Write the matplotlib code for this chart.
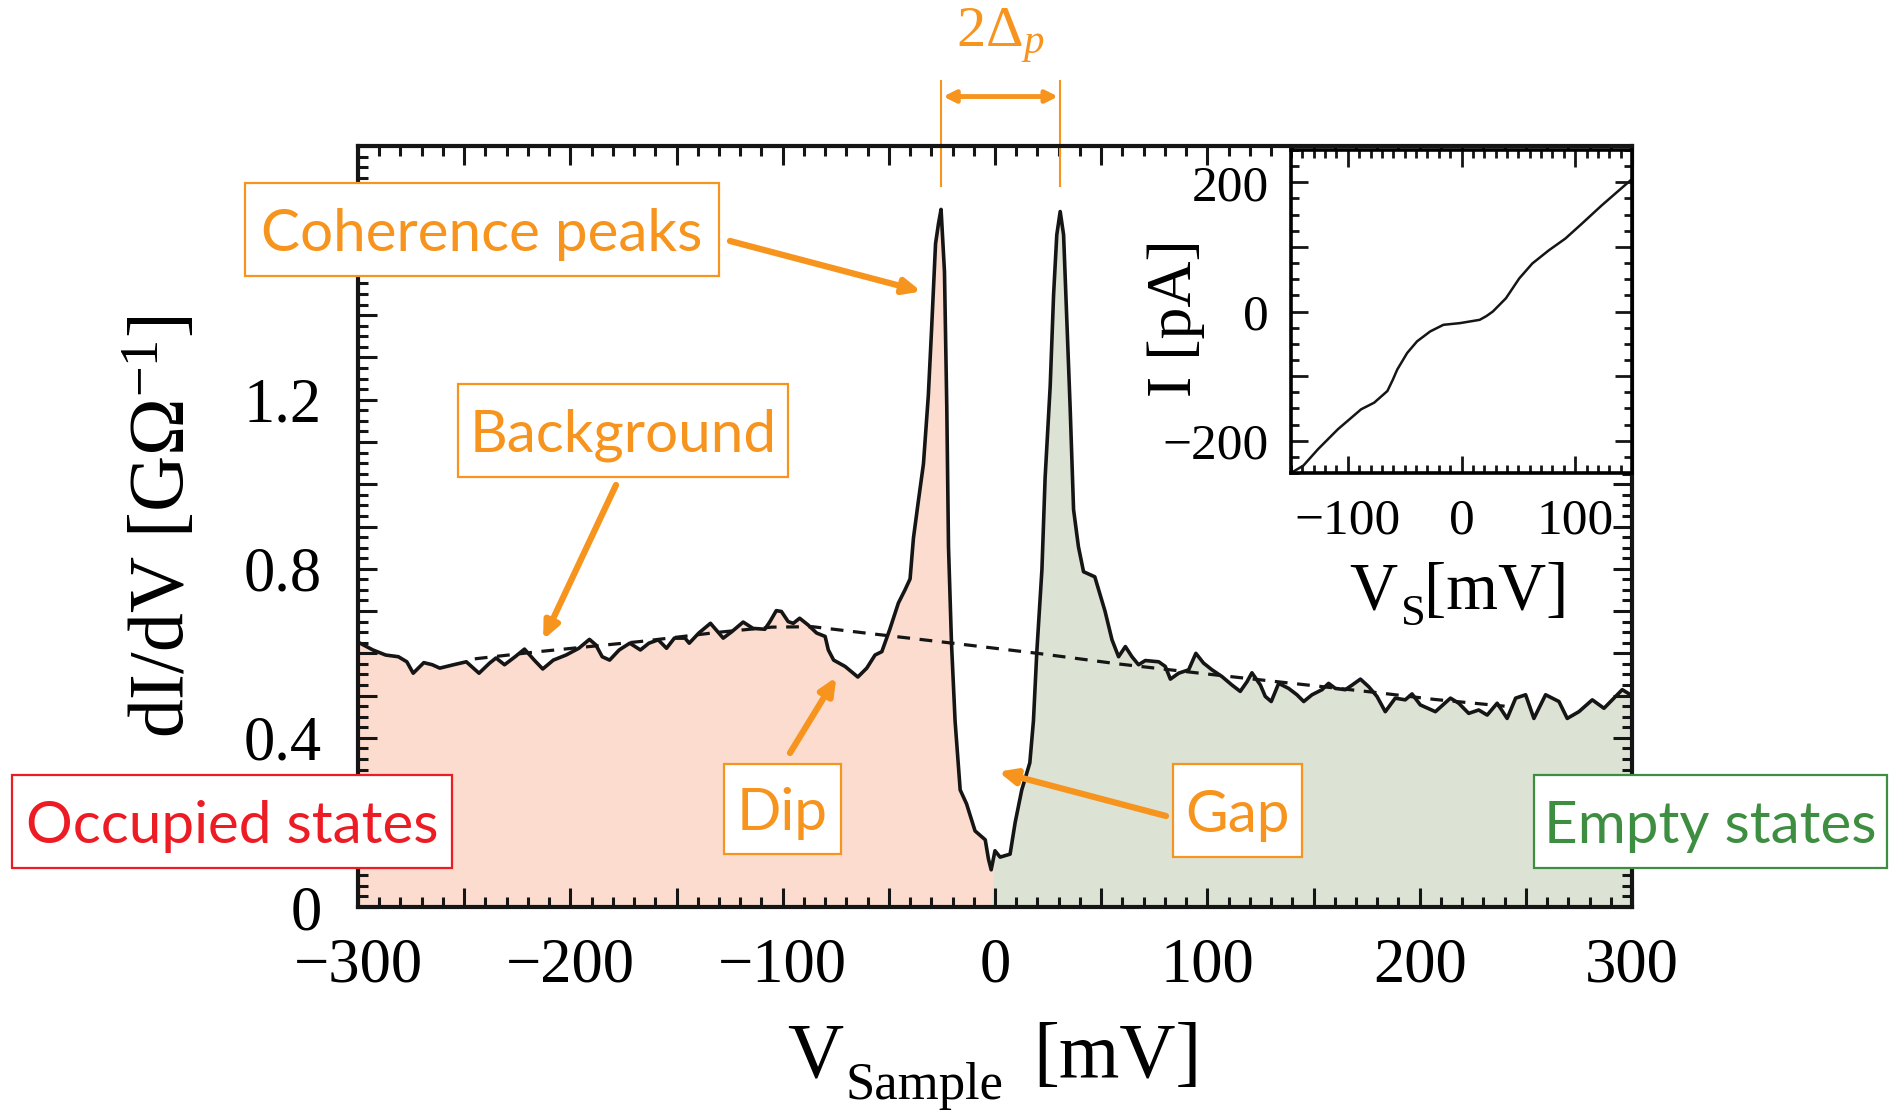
import numpy as np
import matplotlib
matplotlib.use("Agg")
import matplotlib.pyplot as plt
from matplotlib.ticker import MultipleLocator, FuncFormatter
from matplotlib.patches import Rectangle

plt.rcParams['font.family'] = ['Liberation Serif', 'DejaVu Serif']
plt.rcParams['mathtext.fontset'] = 'custom'
plt.rcParams['mathtext.rm'] = 'Liberation Serif'
plt.rcParams['mathtext.it'] = 'Liberation Serif:italic'
plt.rcParams['mathtext.bf'] = 'Liberation Serif:bold'

# dI/dV spectrum (mV, 1/GOhm)
bias = [-300, -299, -293, -287, -281, -277, -274, -269, -265, -261.5, -255, -249, -243, -238,
        -235, -231, -226, -221.6, -217, -213, -208, -202, -196, -191, -188, -185, -181.5, -177,
        -172, -167, -163, -158.6, -154.7, -151, -146, -144, -139.5, -134, -128, -124, -118.6,
        -114, -108.4, -106, -103, -100.6, -97.4, -95, -92, -88, -84, -80, -78.5, -76, -70.6,
        -64.6, -60.4, -56.5, -53.3, -49.6, -45.5, -42.4, -40, -38.4, -36.1, -33.7, -31.4, -29.9,
        -28.0, -26.6, -25.4, -23.8, -22.7, -21.9, -20.5, -18.8, -16.4, -13.4, -9.4, -4.6, -3.1,
        -1.8, 0.0, 2.4, 7.1, 9.5, 12.6, 16.4, 18.1, 19.7, 22.1, 23.6, 26.0, 27.6, 29.1, 30.7,
        32.3, 33.8, 35.4, 37.0, 39.3, 41.7, 47.0, 51.8, 55.1, 58.2, 61.4, 64.5, 67.6, 70.8,
        77.1, 80.2, 82.6, 86.5, 91.2, 94.6, 98.2, 102.2, 106.9, 111.6, 115.5, 118.7, 121.0,
        125.0, 127.3, 130.1, 133.6, 138.3, 142.2, 145.4, 149.3, 154.0, 157.1, 160.3, 165.0,
        168.2, 172.1, 176.0, 179.9, 183.8, 188.5, 193.2, 196.4, 200.3, 207.4, 214.5, 218.4,
        223.1, 227.8, 231.8, 236.5, 241.2, 245.2, 249.9, 253.8, 259.3, 265.6, 269.5, 275.0,
        281.3, 286.8, 290.7, 295.4, 300]
didv = [0.625, 0.624, 0.608, 0.596, 0.592, 0.580, 0.553, 0.578, 0.573, 0.565, 0.573, 0.580, 0.553,
        0.577, 0.589, 0.573, 0.592, 0.610, 0.584, 0.563, 0.584, 0.596, 0.612, 0.633, 0.620, 0.592,
        0.584, 0.608, 0.624, 0.608, 0.624, 0.632, 0.612, 0.636, 0.636, 0.624, 0.648, 0.671, 0.636,
        0.651, 0.674, 0.659, 0.657, 0.675, 0.701, 0.699, 0.675, 0.671, 0.683, 0.667, 0.648, 0.640,
        0.608, 0.584, 0.569, 0.544, 0.565, 0.596, 0.604, 0.656, 0.719, 0.750, 0.776, 0.873, 0.960,
        1.048, 1.210, 1.363, 1.569, 1.617, 1.650, 1.503, 1.180, 0.852, 0.625, 0.440, 0.277, 0.244,
        0.180, 0.159, 0.114, 0.088, 0.133, 0.118, 0.125, 0.200, 0.277, 0.341, 0.440, 0.604, 0.798,
        1.015, 1.233, 1.449, 1.590, 1.645, 1.590, 1.394, 1.180, 0.940, 0.852, 0.793, 0.781, 0.700,
        0.632, 0.592, 0.616, 0.592, 0.573, 0.583, 0.580, 0.569, 0.539, 0.553, 0.561, 0.600, 0.577,
        0.561, 0.545, 0.525, 0.510, 0.533, 0.554, 0.525, 0.498, 0.486, 0.529, 0.517, 0.502, 0.486,
        0.502, 0.514, 0.529, 0.517, 0.514, 0.525, 0.539, 0.521, 0.498, 0.462, 0.494, 0.490, 0.504,
        0.478, 0.462, 0.494, 0.482, 0.458, 0.466, 0.454, 0.482, 0.446, 0.494, 0.502, 0.446, 0.502,
        0.486, 0.446, 0.462, 0.490, 0.470, 0.490, 0.514, 0.500]

# background (dashed)
bg_bias = [-245, -215, -167, -130, -105, -86, -61, -20, 20, 58, 100, 140, 180, 207, 240]
bg_didv = [0.587, 0.604, 0.628, 0.650, 0.662, 0.663, 0.648, 0.624, 0.600, 0.575, 0.551, 0.529,
           0.507, 0.491, 0.475]

# inset I(V)
iv_bias = [-150, -139.1, -126.1, -108.7, -88.3, -76.8, -65.2, -60.5, -56.5, -47.8, -39.1, -27.5,
           -15.9, -1.4, 16.0, 22.0, 27.6, 39.1, 50.8, 62.3, 76.9, 91.3, 105.8, 123.2, 145, 150]
iv_curr = [-250, -238.5, -212.9, -182.2, -151.4, -141.1, -123.1, -106.0, -89.8, -64.2, -46.2,
           -30.8, -20.6, -18.0, -12.9, -7.0, 0, 20.5, 51.2, 74.3, 94.8, 112.8, 135.8, 164.0,
           197.4, 205]

orange = '#F7941D'
red = '#ED1C24'
green = '#3E8E41'
pink = '#FCDCCF'
sage = '#DCE3D4'
ink = '#151515'

W, H = 1892, 1114
fig = plt.figure(figsize=(W / 100, H / 100), dpi=100)

def px(x0, y0, x1, y1):
    # pixel box (top-left origin) -> figure fraction rect
    return [x0 / W, 1 - y1 / H, (x1 - x0) / W, (y1 - y0) / H]

def ftext(xp, yp, s, **kw):
    return fig.text(xp / W, 1 - yp / H, s, **kw)

ax = fig.add_axes(px(358, 146, 1632, 907))
x = np.array(bias)
y = np.array(didv)
ax.fill_between(x, 0, y, where=x <= 0, color=pink, lw=0, interpolate=True)
ax.fill_between(x, 0, y, where=x >= 0, color=sage, lw=0, interpolate=True)
ax.plot(bg_bias, bg_didv, ls=(0, (4, 3)), color=ink, lw=2.3)
ax.plot(x, y, color=ink, lw=2.6)
ax.set_xlim(-300, 300)
ax.set_ylim(0, 1.8)

ax.xaxis.set_major_locator(MultipleLocator(50))
ax.xaxis.set_minor_locator(MultipleLocator(10))
ax.xaxis.set_major_formatter(FuncFormatter(
    lambda v, p: f"{v:.0f}".replace('-', '\u2212') if abs(v % 100) < 1e-6 else ''))
ax.yaxis.set_major_locator(MultipleLocator(0.1))
ax.yaxis.set_minor_locator(MultipleLocator(0.025))
def yfmt(v, p):
    # labels every 0.4; the 1.6 one sits under the "Coherence peaks" box
    k = v / 0.4
    if abs(k - round(k)) > 1e-6 or v > 1.3:
        return ''
    return '0' if abs(v) < 1e-6 else f"{v:.1f}"
ax.yaxis.set_major_formatter(FuncFormatter(yfmt))
ax.tick_params(which='both', direction='in', top=True, right=True, width=2.2, color=ink)
ax.tick_params(which='major', length=14)
ax.tick_params(which='minor', length=7)
ax.tick_params(axis='x', which='major', labelsize=45, pad=22)
ax.tick_params(axis='y', which='major', labelsize=45, pad=26)
for s in ax.spines.values():
    s.set_linewidth(3)
    s.set_color(ink)

ftext(163, 527, r"dI/dV [G$\Omega^{-1}$]", rotation=90, ha='center', va='center', fontsize=56)
# x label: V with a well-lowered "Sample" subscript
ftext(787, 1077, "V", ha='left', va='baseline', fontsize=56)
ftext(845, 1099, "Sample", ha='left', va='baseline', fontsize=38)
ftext(1033, 1077, "[mV]", ha='left', va='baseline', fontsize=56)

# 2 Delta_p markers at the coherence peak positions
left_pk = x[np.argmax(np.where(x < 0, y, 0))]
right_pk = x[np.argmax(np.where(x > 0, y, 0))]
for xp in (left_pk, right_pk):
    ax.plot([xp, xp], [1.705, 1.954], color=orange, lw=1.5, clip_on=False)
ax.annotate('', xy=(left_pk + 1, 1.917), xytext=(right_pk - 1, 1.917), xycoords='data',
            arrowprops=dict(arrowstyle='<|-|>,head_length=0.7,head_width=0.35', color=orange,
                            lw=3.5, shrinkA=0, shrinkB=0), annotation_clip=False)
ax.text((left_pk + right_pk) / 2, 2.06, r"$2\Delta_p$", color=orange, fontsize=42,
        ha='center', va='center', clip_on=False)

# inset
ins = fig.add_axes(px(1291, 150, 1632, 473))
ins.plot(iv_bias, iv_curr, color=ink, lw=1.8)
ins.set_xlim(-150, 150)
ins.set_ylim(-250, 250)
ins.xaxis.set_major_locator(MultipleLocator(100))
ins.xaxis.set_minor_locator(MultipleLocator(10))
ins.yaxis.set_major_locator(MultipleLocator(100))
ins.yaxis.set_minor_locator(MultipleLocator(25))
ins.xaxis.set_major_formatter(FuncFormatter(lambda v, p: f"{v:.0f}".replace('-', '\u2212')))
ins.yaxis.set_major_formatter(FuncFormatter(
    lambda v, p: f"{v:.0f}".replace('-', '\u2212') if abs(v % 200) < 1e-6 else ''))
ins.tick_params(which='both', direction='in', top=True, right=True, width=2, color=ink)
ins.tick_params(which='major', length=12, labelsize=37)
ins.tick_params(which='minor', length=6)
ins.tick_params(axis='x', pad=18)
ins.tick_params(axis='y', pad=16)
for s in ins.spines.values():
    s.set_linewidth(2.6)
ftext(1176, 318, "I [pA]", rotation=90, ha='center', va='center', fontsize=46)
ftext(1349, 609, "V", ha='left', va='baseline', fontsize=48)
ftext(1401, 625, "S", ha='left', va='baseline', fontsize=32)
ftext(1424, 609, "[mV]", ha='left', va='baseline', fontsize=48)

# annotation boxes
def label_box(x0, y0, x1, y1, text, color, size):
    r = Rectangle((x0 / W, 1 - y1 / H), (x1 - x0) / W, (y1 - y0) / H, transform=fig.transFigure,
                  facecolor='white', edgecolor=color, lw=1.6, zorder=5)
    fig.add_artist(r)
    ftext((x0 + x1) / 2, (y0 + y1) / 2, text, color=color, fontsize=size,
          family='Lato', ha='center', va='center_baseline', zorder=6)

label_box(245, 183, 719, 276, "Coherence peaks", orange, 42)
label_box(458, 384, 788, 477, "Background", orange, 42)
label_box(724, 764, 841, 854, "Dip", orange, 42)
label_box(1173, 764, 1302, 857, "Gap", orange, 42)
label_box(12, 775, 452, 868, "Occupied states", red, 42)
label_box(1534, 775, 1887, 868, "Empty states", green, 42)

def arrow(head, tail):
    ax.annotate('', xy=head, xycoords='data', xytext=(tail[0], H - tail[1]),
                textcoords='figure pixels',
                arrowprops=dict(arrowstyle='-|>,head_length=1.0,head_width=0.45', color=orange,
                                lw=4.5, shrinkA=0, shrinkB=0), annotation_clip=False, zorder=7)

arrow((-34.7, 1.456), (730, 241))
arrow((-212.8, 0.632), (616, 485))
arrow((-74.7, 0.544), (790, 753))
arrow((1.6, 0.32), (1166, 816))

fig.savefig('out.png', dpi=100)
